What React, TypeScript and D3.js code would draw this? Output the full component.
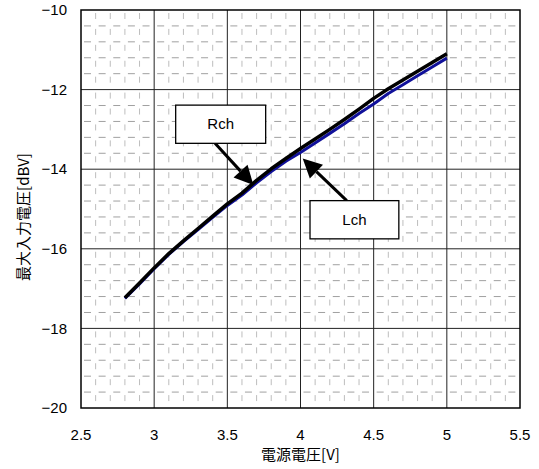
import React from 'react';
import * as d3 from 'd3';

// ── Data ──────────────────────────────────────────────────────────────
const voltages = [2.8, 2.9, 3.0, 3.1, 3.2, 3.3, 3.4, 3.5, 3.6, 3.7, 3.8, 3.9, 4.0, 4.1, 4.2, 4.3, 4.4, 4.5, 4.6, 4.7, 4.8, 4.9, 5.0];
const rchValues = [-17.23, -16.86, -16.48, -16.12, -15.8, -15.49, -15.18, -14.87, -14.6, -14.28, -13.99, -13.73, -13.48, -13.24, -13.0, -12.75, -12.49, -12.22, -11.98, -11.76, -11.54, -11.32, -11.1];
const lchValues = [-17.25, -16.88, -16.5, -16.14, -15.82, -15.52, -15.21, -14.91, -14.65, -14.34, -14.06, -13.8, -13.58, -13.34, -13.1, -12.86, -12.6, -12.36, -12.1, -11.88, -11.65, -11.43, -11.21];

const xTicks = [2.5, 3, 3.5, 4, 4.5, 5, 5.5];
const yTicks = [-20, -18, -16, -14, -12, -10];

// callouts: box corners and arrow in data units
const callouts = [
  { label: 'Rch', box: [3.147, -12.39, 3.762, -13.35], from: [3.416, -13.35], to: [3.678, -14.4] },
  { label: 'Lch', box: [4.065, -14.79, 4.672, -15.75], from: [4.316, -14.79], to: [4.015, -13.73] },
];

const W = 539;
const H = 469;
const margin = { left: 81, right: 19, top: 10, bottom: 61 };
const FONT = '"Liberation Sans", "Noto Sans CJK JP", sans-serif';
const CJK = '"Noto Sans CJK JP", sans-serif';

export default function App() {
  const x = d3.scaleLinear().domain([2.5, 5.5]).range([margin.left, W - margin.right]);
  const y = d3.scaleLinear().domain([-20, -10]).range([H - margin.bottom, margin.top]);

  const x0 = x.range()[0], x1 = x.range()[1];
  const y0 = y.range()[0], y1 = y.range()[1];

  const xMinor = d3.range(2.5, 5.5001, 0.1).filter((v) => Math.abs(v * 2 - Math.round(v * 2)) > 1e-6);
  const yMinor = d3.range(-20, -9.999, 0.4).filter((v) => Math.abs(v / 2 - Math.round(v / 2)) > 1e-6);

  const xStep = Math.abs(x(2.6) - x(2.5));
  const yStep = Math.abs(y(-19.6) - y(-20));

  const line = d3.line<number>()
    .x((_d, i) => x(voltages[i]))
    .y((d) => y(d));

  const fmt = (v: number) => (v < 0 ? '\u2212' + Math.abs(v) : String(v));

  // filled arrowhead at the tip
  const arrow = (fx: number, fy: number, tx: number, ty: number) => {
    const a = Math.atan2(ty - fy, tx - fx);
    const len = 19, half = 9.5;
    const bx = tx - len * Math.cos(a), by = ty - len * Math.sin(a);
    const px = -Math.sin(a) * half, py = Math.cos(a) * half;
    return { bx, by, pts: `${tx},${ty} ${bx + px},${by + py} ${bx - px},${by - py}` };
  };

  return (
    <svg width={W} height={H} style={{ position: 'absolute', left: 0, top: 0, background: '#fff' }} fontFamily={FONT}>
      {/* minor grid */}
      <g>
        {xMinor.map((v) => (
          <line key={'xm' + v} x1={x(v)} x2={x(v)} y1={y1} y2={y0}
            stroke="#bdbdbd" strokeWidth={1} strokeDasharray={`6 ${yStep - 6}`} strokeDashoffset={-3} />
        ))}
        {yMinor.map((v) => (
          <line key={'ym' + v} x1={x0} x2={x1} y1={y(v)} y2={y(v)}
            stroke="#a0a0a0" strokeWidth={1} strokeDasharray={`7 ${xStep - 7}`} strokeDashoffset={-3} />
        ))}
      </g>

      {/* major grid */}
      <g>
        {xTicks.slice(1, -1).map((v) => (
          <line key={'xM' + v} x1={x(v)} x2={x(v)} y1={y1} y2={y0} stroke="#222" strokeWidth={1} />
        ))}
        {yTicks.slice(1, -1).map((v) => (
          <line key={'yM' + v} x1={x0} x2={x1} y1={y(v)} y2={y(v)} stroke="#222" strokeWidth={1} />
        ))}
      </g>

      {/* series */}
      <path d={line(lchValues) || ''} fill="none" stroke="#10109a" strokeWidth={3} strokeLinejoin="round" />
      <path d={line(rchValues) || ''} fill="none" stroke="#000" strokeWidth={3.5} strokeLinejoin="round" />

      {/* callouts */}
      {callouts.map((c) => {
        const fx = x(c.from[0]), fy = y(c.from[1]), tx = x(c.to[0]), ty = y(c.to[1]);
        const ah = arrow(fx, fy, tx, ty);
        return (
          <g key={c.label}>
            <line x1={fx} y1={fy} x2={ah.bx} y2={ah.by} stroke="#000" strokeWidth={3} />
            <polygon points={ah.pts} fill="#000" />
            <rect x={x(c.box[0])} y={y(c.box[1])} width={x(c.box[2]) - x(c.box[0])} height={y(c.box[3]) - y(c.box[1])}
              fill="#fff" stroke="#000" strokeWidth={1.3} />
            <text x={(x(c.box[0]) + x(c.box[2])) / 2} y={(y(c.box[1]) + y(c.box[3])) / 2} dy="0.35em"
              textAnchor="middle" fontSize={15}>{c.label}</text>
          </g>
        );
      })}

      {/* frame */}
      <rect x={x0} y={y1} width={x1 - x0} height={y0 - y1} fill="none" stroke="#000" strokeWidth={1.5} />

      {/* tick labels */}
      {yTicks.map((v) => (
        <text key={'yt' + v} x={x0 - 14} y={y(v)} dy="0.35em" textAnchor="end" fontSize={15}>{fmt(v)}</text>
      ))}
      {xTicks.map((v) => (
        <text key={'xt' + v} x={x(v)} y={y0 + 27} dy="0.35em" textAnchor="middle" fontSize={15}>{v}</text>
      ))}

      {/* axis titles */}
      <text x={(x0 + x1) / 2} y={H - 14} dy="0.35em" textAnchor="middle" fontSize={15} fontFamily={CJK}>電源電圧[V]</text>
      <text transform={`translate(24,${(y0 + y1) / 2 + 8}) rotate(-90)`} dy="0.35em" textAnchor="middle" fontSize={15} fontFamily={CJK}>最大入力電圧[dBV]</text>
    </svg>
  );
}
